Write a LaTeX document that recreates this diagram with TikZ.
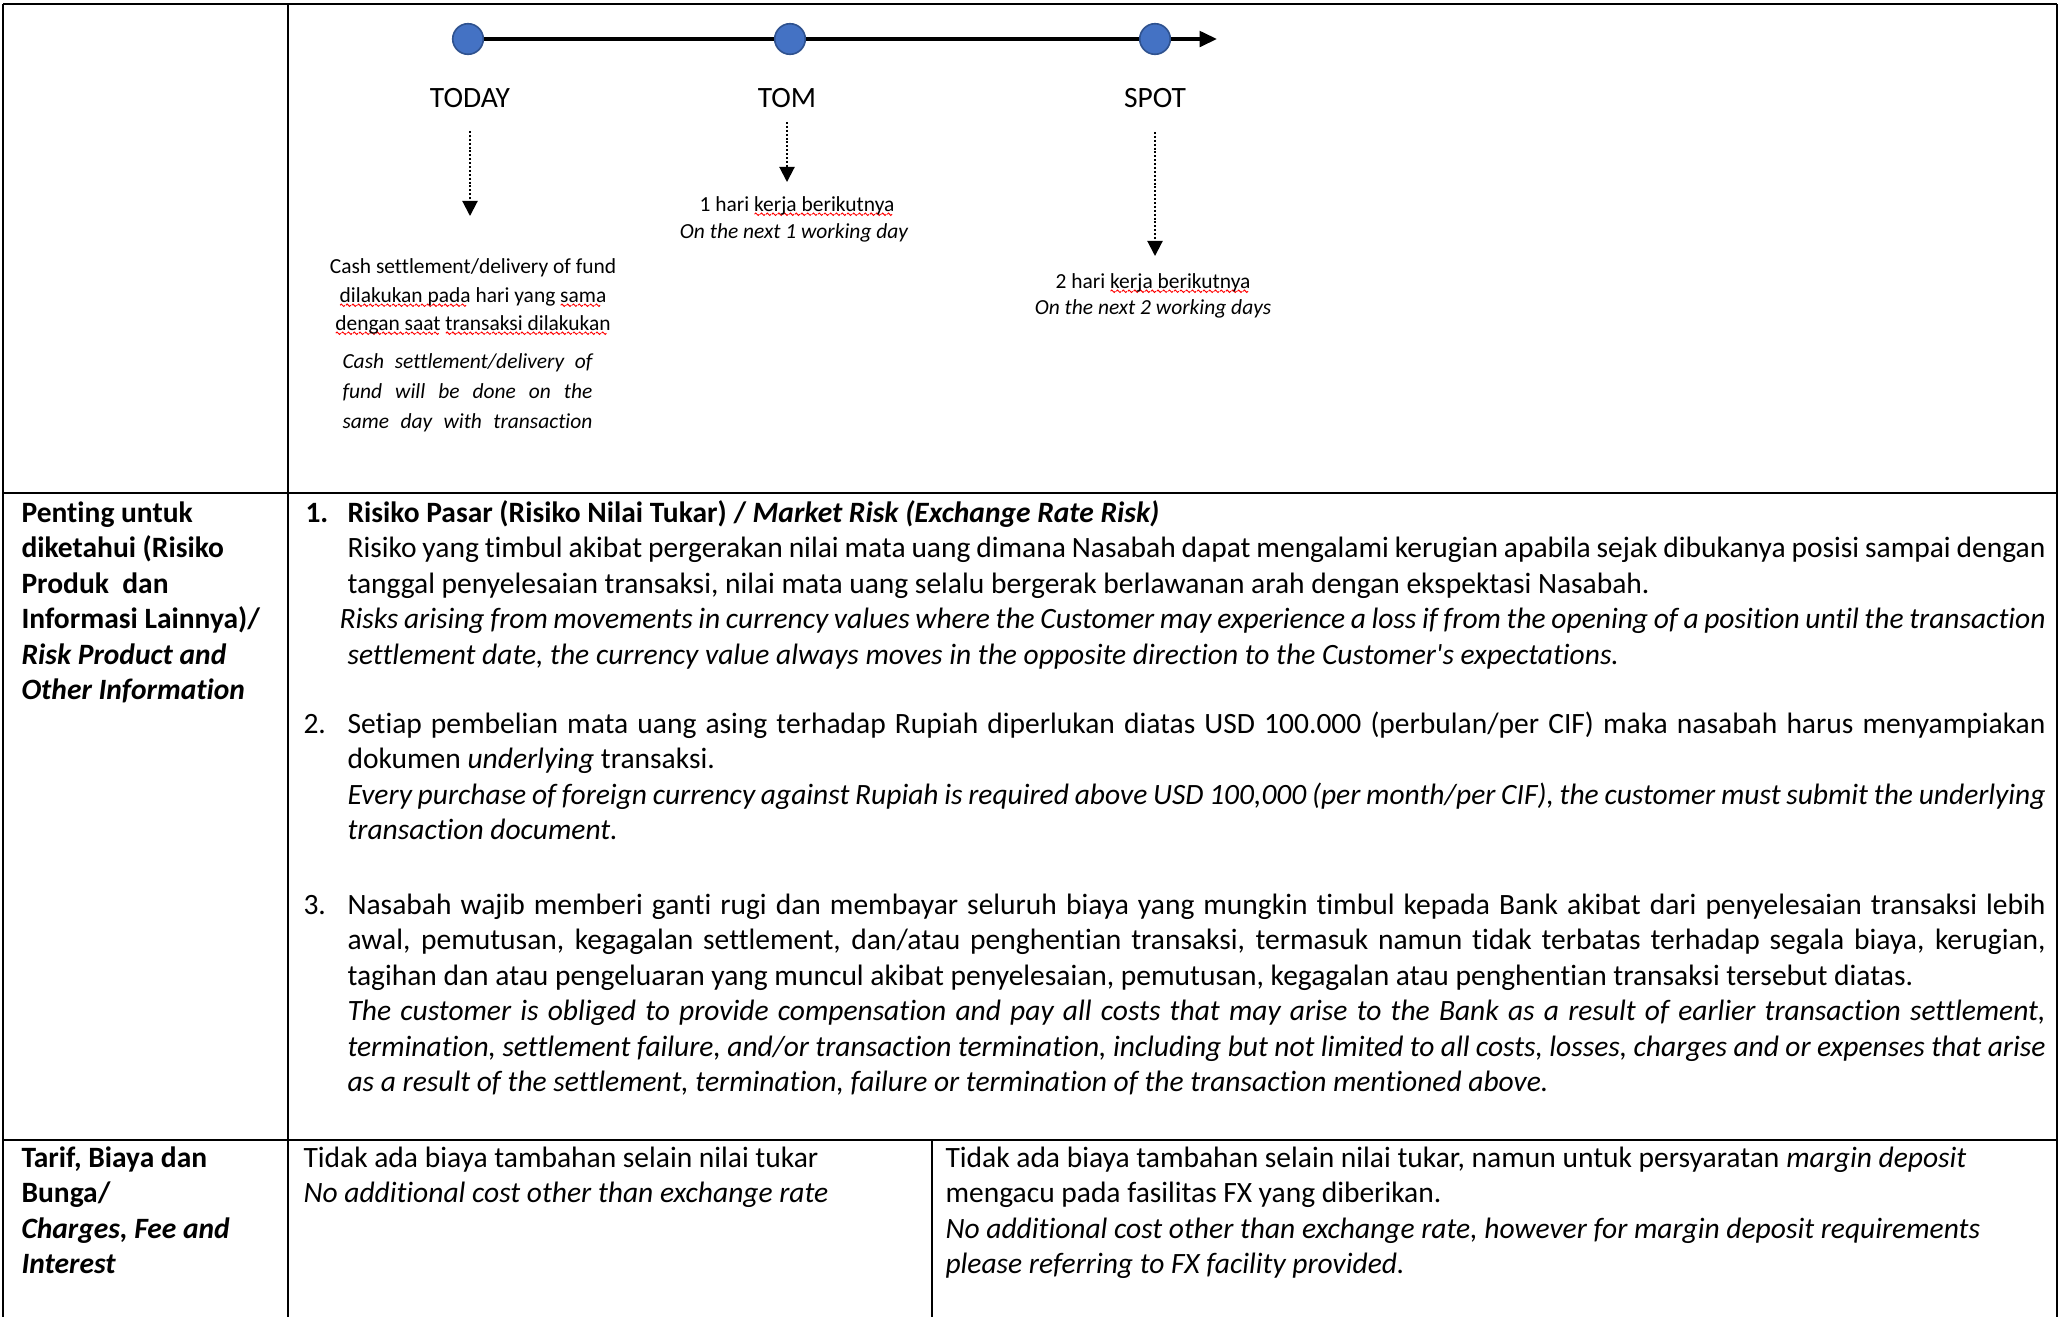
\documentclass[tikz,border=0pt]{standalone}
\usepackage{fontspec}
\setmainfont{Carlito}[Ligatures=NoCommon]
\newfontfamily\plainquote{Carlito}[Ligatures=NoCommon]
\usetikzlibrary{arrows.meta}

\definecolor{dotblue}{HTML}{4472C4}
\definecolor{dotedge}{HTML}{2F528F}

\newsavebox\wordbox
\newcommand\wavebit{\tikz[x=1pt,y=1pt,baseline=0pt]\draw[red,line width=0.35pt] (0,0) sin (0.45,0.45) cos (0.9,0) sin (1.35,-0.45) cos (1.8,0);}
\newcommand\spellwave[1]{\sbox\wordbox{#1}\rlap{\raisebox{-1.2pt}[0pt][0pt]{\hbox to\wd\wordbox{\leaders\hbox{\wavebit}\hfil}}}\usebox\wordbox}
\newcommand\jline[2][633.2pt]{\makebox[#1][s]{#2}}

\begin{document}
\begin{tikzpicture}[x=0.3729pt, y=-0.3729pt,
    gridline/.style={line width=0.6pt},
    bodytext/.style={anchor=base west, inner sep=0pt, font=\fontsize{11}{13.24}\selectfont},
    notetext/.style={anchor=base, inner sep=0pt, font=\fontsize{8}{10}\selectfont},
    daylabel/.style={anchor=base, inner sep=0pt, font=\fontsize{11}{13}\selectfont},
    daydot/.style={circle, fill=dotblue, draw=dotedge, line width=0.6pt, minimum size=11.4pt, inner sep=0pt},
    dotarrow/.style={line width=0.75pt, dash pattern=on 0.75pt off 0.7pt, -{Triangle[length=5.6pt, width=5.6pt]}},
    timeline/.style={line width=1.3pt}]

    \useasboundingbox (0,0) rectangle (2060,1317);

    % table rules
    \draw[gridline] (3,4) -- (2057,4);
    \draw[gridline] (3,4) -- (3,1317);
    \draw[gridline] (2057,4) -- (2057,1317);
    \draw[gridline] (288,4) -- (288,1317);
    \draw[gridline] (3,493) -- (2057,493);
    \draw[gridline] (3,1140) -- (2057,1140);
    \draw[gridline] (932,1140) -- (932,1317);

    % timeline
    \node[daydot] (dtoday) at (468,39) {};
    \node[daydot] (dtom) at (790,39) {};
    \node[daydot] (dspot) at (1155,39) {};
    \coordinate (tlend) at (1217,39);
    \draw[timeline] (dtoday) -- (dtom);
    \draw[timeline] (dtom) -- (dspot);
    \draw[timeline, -{Triangle[length=6.5pt, width=5.8pt]}] (dspot) -- (tlend);

    \node[daylabel] (ltoday) at (470,107) {TODAY};
    \node[daylabel] (ltom) at (787,107) {TOM};
    \node[daylabel] (lspot) at (1155,107) {SPOT};

    \coordinate (atoday1) at (470,131);
    \coordinate (atoday2) at (470,216);
    \coordinate (atom1) at (787,122);
    \coordinate (atom2) at (787,182);
    \coordinate (aspot1) at (1155,132);
    \coordinate (aspot2) at (1155,256);
    \draw[dotarrow] (atoday1) -- (atoday2);
    \draw[dotarrow] (atom1) -- (atom2);
    \draw[dotarrow] (aspot1) -- (aspot2);

    \node[notetext] (ntoday1) at (473,273) {Cash settlement/delivery of fund};
    \node[notetext] (ntoday2) at (473,302) {\spellwave{dilakukan pada} hari yang \spellwave{sama}};
    \node[notetext] (ntoday3) at (473,330) {\spellwave{dengan saat} \spellwave{transaksi dilakukan}};
    \node[notetext, anchor=base west] (etoday1) at (342,368) {\jline[93.2pt]{\itshape Cash settlement/delivery of}};
    \node[notetext, anchor=base west] (etoday2) at (342,398) {\jline[93.2pt]{\itshape fund will be done on the}};
    \node[notetext, anchor=base west] (etoday3) at (342,428) {\jline[93.2pt]{\itshape same day with transaction}};

    \node[notetext] (ntom1) at (797,211) {1 hari \spellwave{kerja berikutnya}};
    \node[notetext] (ntom2) at (794,238) {\itshape On the next 1 working day};
    \node[notetext] (nspot1) at (1153,288) {2 hari \spellwave{kerja berikutnya}};
    \node[notetext] (nspot2) at (1153,314) {\itshape On the next 2 working days};

    % risk row
    \node[bodytext] (hrisk1) at (21,522) {\bfseries Penting untuk};
    \node[bodytext] (hrisk2) at (21,557.5) {\bfseries diketahui (Risiko};
    \node[bodytext] (hrisk3) at (21,593) {\bfseries Produk\ \ dan};
    \node[bodytext] (hrisk4) at (21,628.5) {\bfseries Informasi Lainnya)/};
    \node[bodytext] (hrisk5) at (21,664) {\bfseries\itshape Risk Product and};
    \node[bodytext] (hrisk6) at (21,699.5) {\bfseries\itshape Other Information};

    \node[bodytext] (num1) at (305,522) {\bfseries 1.};
    \node[bodytext] (ione1) at (347,522) {\bfseries Risiko Pasar (Risiko Nilai Tukar) / \textit{Market Risk (Exchange Rate Risk)}};
    \node[bodytext] (ione2) at (347,557.5) {\jline{Risiko yang timbul akibat pergerakan nilai mata uang dimana Nasabah dapat mengalami kerugian apabila sejak dibukanya posisi sampai dengan}};
    \node[bodytext] (ione3) at (347,593) {tanggal penyelesaian transaksi, nilai mata uang selalu bergerak berlawanan arah dengan ekspektasi Nasabah.};
    \node[bodytext] (ione4) at (339,628.5) {\jline[636.2pt]{\itshape Risks arising from movements in currency values where the Customer may experience a loss if from the opening of a position until the transaction}};
    \node[bodytext] (ione5) at (347,664) {\itshape settlement date, the currency value always moves in the opposite direction to the Customer{\plainquote'}s expectations.};

    \node[bodytext] (num2) at (303,733) {2.};
    \node[bodytext] (itwo1) at (347,733) {\jline{Setiap pembelian mata uang asing terhadap Rupiah diperlukan diatas USD 100.000 (perbulan/per CIF) maka nasabah harus menyampiakan}};
    \node[bodytext] (itwo2) at (347,768.5) {dokumen \textit{underlying} transaksi.};
    \node[bodytext] (itwo3) at (347,804) {\jline{\itshape Every purchase of foreign currency against Rupiah is required above USD 100,000 (per month/per CIF), the customer must submit the underlying}};
    \node[bodytext] (itwo4) at (347,839.5) {\itshape transaction document.};

    \node[bodytext] (num3) at (303,914) {3.};
    \node[bodytext] (ithree1) at (347,914) {\jline{Nasabah wajib memberi ganti rugi dan membayar seluruh biaya yang mungkin timbul kepada Bank akibat dari penyelesaian transaksi lebih}};
    \node[bodytext] (ithree2) at (347,949.5) {\jline{awal, pemutusan, kegagalan settlement, dan/atau penghentian transaksi, termasuk namun tidak terbatas terhadap segala biaya, kerugian,}};
    \node[bodytext] (ithree3) at (347,985) {tagihan dan atau pengeluaran yang muncul akibat penyelesaian, pemutusan, kegagalan atau penghentian transaksi tersebut diatas.};
    \node[bodytext] (ithree4) at (347,1020.5) {\jline{\itshape The customer is obliged to provide compensation and pay all costs that may arise to the Bank as a result of earlier transaction settlement,}};
    \node[bodytext] (ithree5) at (347,1056) {\jline{\itshape termination, settlement failure, and/or transaction termination, including but not limited to all costs, losses, charges and or expenses that arise}};
    \node[bodytext] (ithree6) at (347,1091.5) {\itshape as a result of the settlement, termination, failure or termination of the transaction mentioned above.};

    % fee row
    \node[bodytext] (hfee1) at (21,1167) {\bfseries Tarif, Biaya dan};
    \node[bodytext] (hfee2) at (21,1202.5) {\bfseries Bunga/};
    \node[bodytext] (hfee3) at (21,1238) {\bfseries\itshape Charges, Fee and};
    \node[bodytext] (hfee4) at (21,1273.5) {\bfseries\itshape Interest};

    \node[bodytext] (fspot1) at (303,1167) {Tidak ada biaya tambahan selain nilai tukar};
    \node[bodytext] (fspot2) at (303,1202.5) {\itshape No additional cost other than exchange rate};

    \node[bodytext] (fmargin1) at (945,1167) {Tidak ada biaya tambahan selain nilai tukar, namun untuk persyaratan \textit{margin deposit}};
    \node[bodytext] (fmargin2) at (945,1202.5) {mengacu pada fasilitas FX yang diberikan.};
    \node[bodytext] (fmargin3) at (945,1238) {\itshape No additional cost other than exchange rate, however for margin deposit requirements};
    \node[bodytext] (fmargin4) at (945,1273.5) {\itshape please referring to FX facility provided.};

\end{tikzpicture}
\end{document}
